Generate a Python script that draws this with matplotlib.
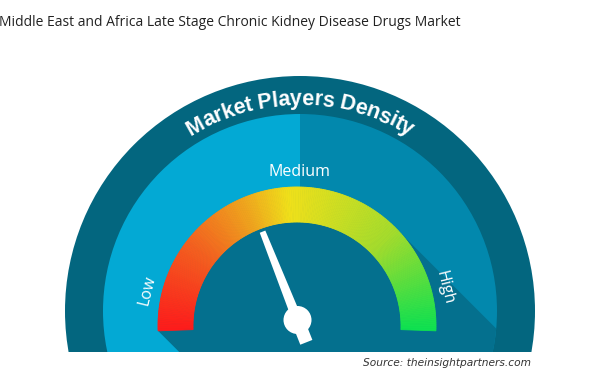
import numpy as np
import matplotlib
matplotlib.use("Agg")
import matplotlib.pyplot as plt
from matplotlib.patches import Circle, Polygon, Rectangle, Wedge
from matplotlib.colors import LinearSegmentedColormap
from matplotlib.font_manager import FontProperties, findfont
from matplotlib.ft2font import FT2Font

# chart content
title = "Middle East and Africa Late Stage Chronic Kidney Disease Drugs Market"
gauge_title = "Market Players Density"
levels = ["Low", "Medium", "High"]
needle_value = 0.38  # needle position on the Low..High scale (0..1)
source = "Source: theinsightpartners.com"

RING = "#03667f"
LEFT = "#03a9d4"
RIGHT = "#0288ad"
SHADE = "#04708e"
grad_pos = [0.0, 0.22, 0.38, 0.48, 0.75, 1.0]
grad_col = ["#fe1b1b", "#f4621f", "#f0a81d", "#f0e01a", "#a6dc2c", "#0fe150"]
cmap = LinearSegmentedColormap.from_list("gauge", list(zip(grad_pos, grad_col)))


def ring_poly(c, r_in, r_out, a0, a1, n=8):
    """Annulus segment in screen angles (deg, counter-clockwise, y down)."""
    a = np.radians(np.linspace(a0, a1, n))
    outer = np.c_[c[0] + r_out * np.cos(a), c[1] - r_out * np.sin(a)]
    inner = np.c_[c[0] + r_in * np.cos(a[::-1]), c[1] - r_in * np.sin(a[::-1])]
    return np.vstack([outer, inner])


fig = plt.figure(figsize=(6, 3.8), dpi=100)
ax = fig.add_axes([0, 0, 1, 1])
ax.set_xlim(0, 600)
ax.set_ylim(380, 0)
ax.axis("off")

# background discs
cx, cy = 300, 311
ax.add_patch(Circle((cx, cy), 235, color=RING, lw=0, zorder=1))
ax.add_patch(Wedge((cx, cy), 197, 90, 270, color=LEFT, lw=0, zorder=2))
ax.add_patch(Wedge((cx, cy), 197, -90, 90, color=RIGHT, lw=0, zorder=2))

# coloured scale
gc = (297, 326)
r_out, r_in = 139, 104
a_start, a_end = 182, -2

# long shadow of the scale, cast down-right
a = np.radians(np.linspace(a_start, 45, 120))
arc = np.c_[gc[0] + r_out * np.cos(a), gc[1] - r_out * np.sin(a)]
far = 600
shadow = np.vstack([arc[:1] + far, arc, arc[-1:] + far])
clip = Circle((cx, cy), 197, transform=ax.transData)
sh = Polygon(shadow, closed=True, color=SHADE, lw=0, zorder=3)
ax.add_patch(sh)
sh.set_clip_path(clip)

n_seg = 220
edges = np.linspace(a_start, a_end, n_seg + 1)
for i in range(n_seg):
    col = cmap(i / (n_seg - 1))
    ax.add_patch(Polygon(ring_poly(gc, r_in, r_out, edges[i], edges[i + 1], 3),
                         closed=True, facecolor=col, edgecolor=col, lw=0.6, zorder=4))

# needle
kc = np.array([297.5, 320.0])
ang = np.radians(180 - needle_value * 180)
u = np.array([np.cos(ang), -np.sin(ang)])
nrm = np.array([np.sin(ang), np.cos(ang)])
needle = [kc + 5 * nrm, kc + 95 * u + 3 * nrm, kc + 95 * u - 3 * nrm, kc - 5 * nrm]
ax.add_patch(Polygon(needle, closed=True, color="white", lw=0, zorder=6))
tail = [kc + 6.5 * nrm, kc - 24 * u + 6.5 * nrm, kc - 24 * u - 6.5 * nrm, kc - 6.5 * nrm]
ax.add_patch(Polygon(tail, closed=True, color="white", lw=0, zorder=6))
ax.add_patch(Circle(kc, 14, color="white", lw=0, zorder=7))

# level labels
lab_font = dict(color="white", family=["Open Sans", "DejaVu Sans"], fontsize=11.5, zorder=8)
ax.text(147, 290, levels[0], ha="center", va="center", rotation=76, **lab_font)
ax.text(300, 172, levels[1], ha="center", va="center", **lab_font)
ax.text(444, 288, levels[2], ha="center", va="center", rotation=-76, **lab_font)

# curved heading along the outer ring
size_pt = 15.5
fp = FontProperties(family="Liberation Sans", weight="bold", size=size_pt)
ft = FT2Font(findfont(fp))
ft.set_size(size_pt, 100)
adv = np.array([ft.load_char(ord(ch)).linearHoriAdvance / 65536 for ch in gauge_title])
pos = np.cumsum(adv) - adv / 2 - adv.sum() / 2
rb = 206
for ch, s in zip(gauge_title, pos):
    th = 90 - np.degrees(s / (rb + 6))
    t = np.radians(th)
    ax.text(cx + rb * np.cos(t), cy - rb * np.sin(t), ch, fontproperties=fp,
            color="white", ha="center", va="baseline", rotation=th - 90,
            rotation_mode="anchor", zorder=8)

# cut the gauge at the bottom
ax.add_patch(Rectangle((0, 352), 600, 30, color="white", lw=0, zorder=10))

ax.text(-1, 22, title, ha="left", va="center", fontsize=10, color="#222222",
        family=["Open Sans", "DejaVu Sans"], zorder=11)
ax.text(363, 363, source, ha="left", va="center", fontsize=7.7, color="#333333",
        style="italic", family="DejaVu Sans", zorder=11)

fig.savefig("out.png", dpi=100)
